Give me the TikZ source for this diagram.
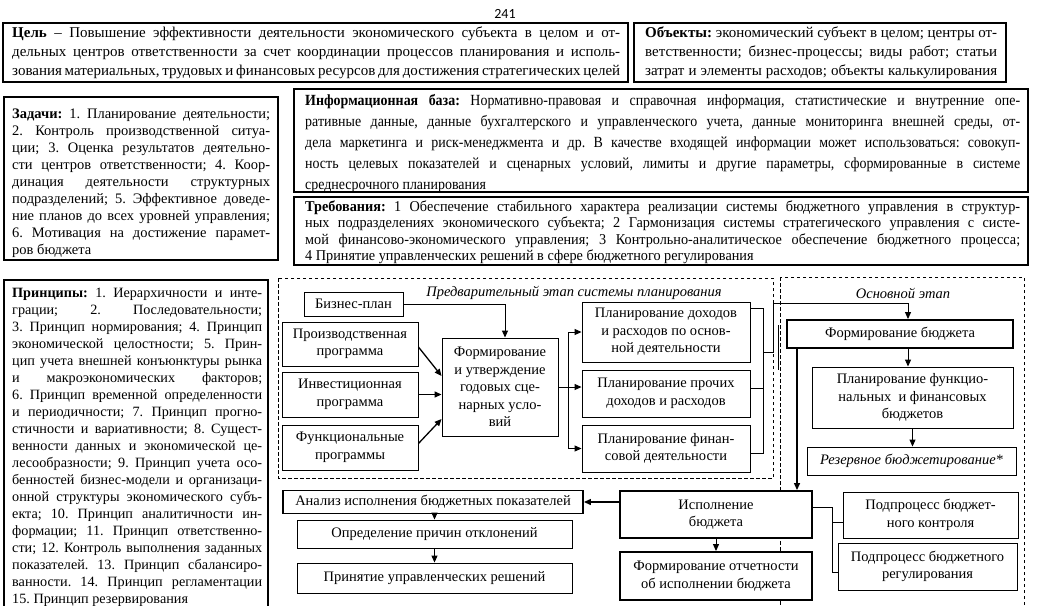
\documentclass[tikz,border=0pt]{standalone}
\usepackage{fontspec}
\setmainfont{Liberation Serif}
\newfontfamily\condfont{Liberation Serif}[FakeStretch=0.9]
\newfontfamily\reqfont{Liberation Serif}[FakeStretch=0.95]
\newfontfamily\pgfont{Carlito}
\usetikzlibrary{arrows.meta}
\frenchspacing
\newcommand\jl[1]{\hbox to\hsize{\strut#1}}
\newcommand\jlast[1]{\hbox to\hsize{\strut#1\hfil}}
\newcommand\nodefont{\fontsize{14.5}{17.5}\selectfont}
\begin{document}
\begin{tikzpicture}[x=1pt,y=-1pt,
  bigbox/.style={draw, line width=1.4pt, fill=white, inner sep=0pt},
  txt/.style={inner sep=0pt, anchor=north west},
  box/.style={draw, line width=0.9pt, fill=white, inner sep=0pt, align=center, font=\nodefont},
  tbox/.style={box, line width=1.9pt},
  stage/.style={draw, dash pattern=on 3.5pt off 2.5pt, line width=0.8pt},
  conn/.style={line width=1pt},
  arr/.style={conn, -{Triangle[length=7pt,width=6pt]}}]
\useasboundingbox (0,0) rectangle (1038,605);

\node[font=\pgfont\fontsize{14}{16}\selectfont, inner sep=0pt] (pnum) at (505,14) {241};

% goal
\node[bigbox, minimum width=625pt, minimum height=59pt] (goal) at (315.5,52.5) {};
\node[txt] (goaltxt) at (12,24.2) {\vbox{\hsize=608pt \fontsize{15}{19}\selectfont
\jl{\textbf{Цель} – Повышение эффективности деятельности экономического субъекта в целом и от-}
\jl{дельных центров ответственности за счет координации процессов планирования и исполь-}
\jl{зования материальных, трудовых и финансовых ресурсов для достижения стратегических целей}}};

% objects
\node[bigbox, minimum width=372pt, minimum height=59pt] (obj) at (820,52.5) {};
\node[txt] (objtxt) at (645,24.2) {\vbox{\hsize=352pt \fontsize{15}{19}\selectfont
\jl{\textbf{Объекты:} экономический субъект в целом; центры от-}
\jl{ветственности; бизнес-процессы; виды работ; статьи}
\jl{затрат и элементы расходов; объекты калькулирования}}};

% tasks
\node[bigbox, minimum width=274pt, minimum height=163pt] (tasks) at (141,178.5) {};
\node[txt] (taskstxt) at (12,106.6) {\vbox{\hsize=258pt \fontsize{14.5}{17}\selectfont
\jl{\textbf{Задачи:} 1. Планирование деятельности;}
\jl{2. Контроль производственной ситуа-}
\jl{ции; 3. Оценка результатов деятельно-}
\jl{сти центров ответственности; 4. Коор-}
\jl{динация деятельности структурных}
\jl{подразделений; 5. Эффективное доведе-}
\jl{ние планов до всех уровней управления;}
\jl{6. Мотивация на достижение парамет-}
\jlast{ров бюджета}}};

% info
\node[bigbox, minimum width=734pt, minimum height=103pt] (info) at (661,140.5) {};
\node[txt] (infotxt) at (305,90.8) {\vbox{\hsize=715pt \condfont\fontsize{15.5}{21}\selectfont
\jl{\textbf{Информационная база:} Нормативно-правовая и справочная информация, статистические и внутренние опе-}
\jl{ративные данные, данные бухгалтерского и управленческого учета, данные мониторинга внешней среды, от-}
\jl{дела маркетинга и риск-менеджмента и др. В качестве входящей информации может использоваться: совокуп-}
\jl{ность целевых показателей и сценарных условий, лимиты и другие параметры, сформированные в системе}
\jlast{среднесрочного планирования}}};

% requirements
\node[bigbox, minimum width=734pt, minimum height=68pt] (req) at (661,231) {};
\node[txt] (reqtxt) at (305,200.8) {\vbox{\hsize=715pt \reqfont\fontsize{15}{15}\selectfont
\jl{\textbf{Требования:} 1 Обеспечение стабильного характера реализации системы бюджетного управления в структур-}
\jl{ных подразделениях экономического субъекта; 2 Гармонизация системы стратегического управления с систе-}
\jl{мой финансово-экономического управления; 3 Контрольно-аналитическое обеспечение бюджетного процесса;}
\jlast{4 Принятие управленческих решений в сфере бюджетного регулирования}}};

% principles
\node[bigbox, minimum width=264pt, minimum height=330pt] (princ) at (136,445) {};
\node[txt] (princtxt) at (12,285.6) {\vbox{\hsize=250pt \fontsize{14.2}{17}\selectfont
\jl{\textbf{Принципы:} 1. Иерархичности и инте-}
\jl{грации; 2. Последовательности;}
\jl{3. Принцип нормирования; 4. Принцип}
\jl{экономической целостности; 5. Прин-}
\jl{цип учета внешней конъюнктуры рынка}
\jl{и макроэкономических факторов;}
\jl{6. Принцип временной определенности}
\jl{и периодичности; 7. Принцип прогно-}
\jl{стичности и вариативности; 8. Сущест-}
\jl{венности данных и экономической це-}
\jl{лесообразности; 9. Принцип учета осо-}
\jl{бенностей бизнес-модели и организаци-}
\jl{онной структуры экономического субъ-}
\jl{екта; 10. Принцип аналитичности ин-}
\jl{формации; 11. Принцип ответственно-}
\jl{сти; 12. Контроль выполнения заданных}
\jl{показателей. 13. Принцип сбалансиро-}
\jl{ванности. 14. Принцип регламентации}
\jlast{15. Принцип резервирования}}};

% stages
\draw[stage] (278,278) rectangle (773,478);
\draw[stage] (780,277) rectangle (1024,640);
\node[font=\itshape\nodefont, inner sep=0pt] (prelbl) at (574,293) {Предварительный этап системы планирования};
\node[font=\itshape\nodefont, inner sep=0pt] (mainlbl) at (903,293) {Основной этап};

% preliminary nodes
\node[box, minimum width=99pt, minimum height=24pt] (biz) at (353.5,304) {Бизнес-план};
\node[box, minimum width=136pt, minimum height=44pt] (prod) at (350,344) {Производственная\\программа};
\node[box, minimum width=136pt, minimum height=45pt] (inv) at (350,394.5) {Инвестиционная\\программа};
\node[box, minimum width=136pt, minimum height=45pt] (func) at (350,447.5) {Функциональные\\программы};
\node[box, minimum width=116pt, minimum height=98pt] (form) at (500,387) {Формирование\\и утверждение\\годовых сце-\\нарных усло-\\вий};
\node[box, minimum width=168pt, minimum height=60pt] (plan1) at (666,332) {Планирование доходов\\и расходов по основ-\\ной деятельности};
\node[box, minimum width=168pt, minimum height=47pt] (plan2) at (666,393.5) {Планирование прочих\\доходов и расходов};
\node[box, minimum width=168pt, minimum height=47pt] (plan3) at (666,448.5) {Планирование финан-\\совой деятельности};

% main nodes
\node[tbox, minimum width=226pt, minimum height=28pt] (budget) at (900,334) {Формирование бюджета};
\node[box, minimum width=201pt, minimum height=61pt] (planfb) at (912.5,397.5) {Планирование функцио-\\нальных\ \ и финансовых\\бюджетов};
\node[box, minimum width=209pt, minimum height=28pt, font=\itshape\nodefont] (reserve) at (911.5,461) {Резервное бюджетирование*};
\node[tbox, minimum width=300pt, minimum height=23pt] (analysis) at (433,502) {Анализ исполнения бюджетных показателей};
\node[tbox, minimum width=192pt, minimum height=47pt] (exec) at (716,514.5) {Исполнение\\бюджета};
\node[box, minimum width=275pt, minimum height=28pt] (reasons) at (434.5,534) {Определение причин отклонений};
\node[box, minimum width=275pt, minimum height=30pt] (decision) at (434.5,578) {Принятие управленческих решений};
\node[tbox, minimum width=192pt, minimum height=48pt] (report) at (716,576) {Формирование отчетности\\об исполнении бюджета};
\node[box, minimum width=175pt, minimum height=46pt] (control) at (930.5,515) {Подпроцесс бюджет-\\ного контроля};
\node[box, minimum width=179pt, minimum height=47pt] (regul) at (927.5,566.5) {Подпроцесс бюджетного\\регулирования};

% preliminary connectors
\draw[arr] (biz.east) -| ([xshift=5pt]form.north);
\draw[arr, line width=1.3pt] ([yshift=-3pt]prod.east) -- ([yshift=11pt]form.west);
\draw[arr, line width=1.3pt] (inv.east) -- (inv.east -| form.west);
\draw[arr, line width=1.3pt] ([yshift=4pt]func.east) -- ([yshift=-32pt]form.west);
\coordinate (bk) at (568,387);
\draw[conn] (form.east |- bk) -- (bk);
\draw[arr] (bk) |- (plan1.west);
\draw[arr] (bk) |- (plan3.west);
\draw[arr] (bk) -- (bk -| plan2.west);

% bracket to budget
\coordinate (rb1) at (763,308);
\coordinate (rb2) at (763,388);
\coordinate (rb3) at (763,453);
\coordinate (rbm) at (763,352);
\coordinate (rbc) at (773,352);
\coordinate (rbt) at (773,303);
\coordinate (rbx) at (908,303);
\draw[conn] (plan1.east |- rb1) -- (rb1) -- (rb3) -- (plan3.east |- rb3);
\draw[conn] (plan2.east |- rb2) -- (rb2);
\draw[arr] (rbm) -- (rbc) -- (rbt) -- (rbx) -- (rbx |- budget.north);
\coordinate (stub1) at (778,325);
\coordinate (stub2) at (778,370);
\draw[conn] (stub1) -- (stub2);

% main connectors
\draw[arr] ([xshift=8pt]budget.south) -- ([xshift=8pt]budget.south |- planfb.north);
\draw[arr] (planfb.south) -- (planfb.south |- reserve.north);
\draw[arr, line width=1.3pt] ([xshift=-103pt]budget.south) -- ([xshift=-103pt]budget.south |- exec.north);
\draw[arr, line width=1.3pt] (exec.west |- analysis.east) -- (analysis.east);
\draw[arr] (reasons.north |- analysis.south) -- (reasons.north);
\draw[arr] (reasons.south) -- (decision.north);
\draw[arr] (exec.south) -- (report.north);
\coordinate (ej) at (832,507);
\coordinate (ejc) at (832,522);
\coordinate (ejb) at (832,572);
\draw[conn] (exec.east |- ej) -- (ej) -- (ejb) -- (regul.west |- ejb);
\draw[conn] (ejc) -- (control.west |- ejc);
\end{tikzpicture}
\end{document}
